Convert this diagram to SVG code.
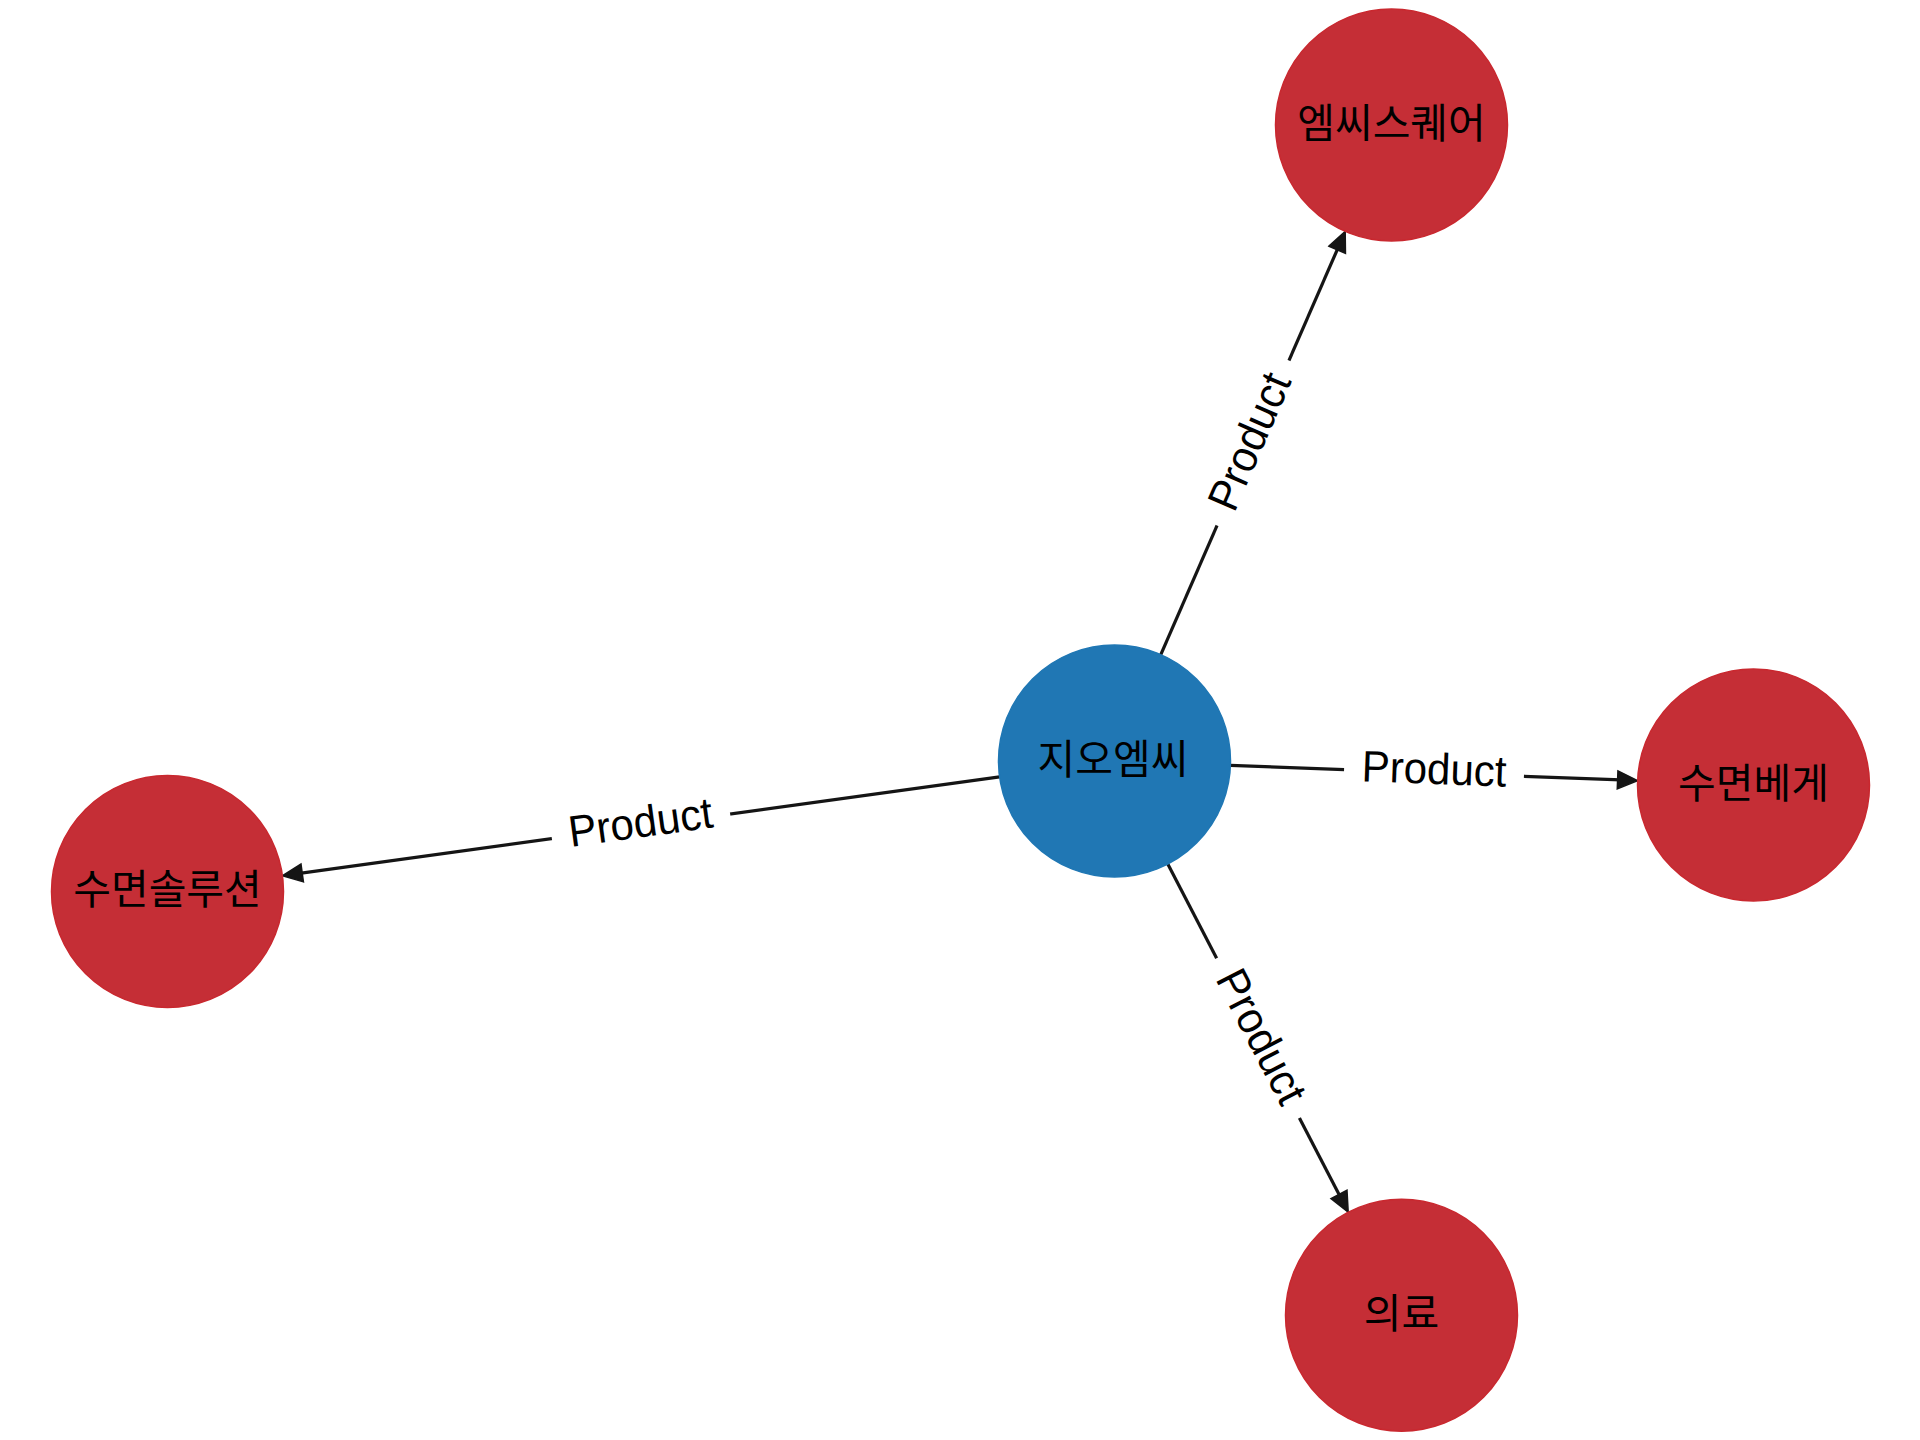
<svg xmlns="http://www.w3.org/2000/svg" width="1920" height="1440" viewBox="0 0 1920 1440">
  <style>
    .edge { stroke: #151515; stroke-width: 3.2; fill: none; marker-end: url(#arrow); }
    .lblbg { fill: #ffffff; }
    .lbl { font-family: "Liberation Sans", Arial, sans-serif; font-size: 44px; fill: #000000; text-anchor: middle; }
    .red { fill: #c52e36; stroke: #c9282f; stroke-width: 1.5; }
    .blue { fill: #2077b4; stroke: #1f77b4; stroke-width: 1.5; }
    .ntxt { font-family: "Noto Sans CJK KR", "Noto Sans", sans-serif; font-size: 41px; fill: #000000; text-anchor: middle; }
  </style>
  <defs>
    <marker id="arrow" viewBox="0 0 20 20" refX="10" refY="10" markerWidth="20" markerHeight="20" markerUnits="userSpaceOnUse" orient="auto" overflow="visible">
      <path d="M0,1 L20,10 L0,19 Z" fill="#151515" stroke="#151515" stroke-width="1.5" stroke-linejoin="miter"/>
    </marker>
  </defs>
  <rect x="0" y="0" width="1920" height="1440" fill="#ffffff"/>

  <g id="connectors">
    <line class="edge" x1="1160.8" y1="654.6" x2="1341.2" y2="240.6"/>
    <line class="edge" x1="1230.4" y1="765.4" x2="1627.6" y2="780.2"/>
    <line class="edge" x1="1167.8" y1="864" x2="1343.6" y2="1203.3"/>
    <line class="edge" x1="999.6" y1="776.8" x2="292.3" y2="874.3"/>
    <g id="label-to-mcsquare" transform="translate(1253,443) rotate(-66.47)">
      <rect class="lblbg" x="-90" y="-25" width="180" height="50"/>
      <text class="lbl" x="0" y="11" textLength="145" lengthAdjust="spacingAndGlyphs">Product</text>
    </g>
    <g id="label-to-pillow" transform="translate(1434,773) rotate(2.15)">
      <rect class="lblbg" x="-90" y="-25" width="180" height="50"/>
      <text class="lbl" x="0" y="11" textLength="145" lengthAdjust="spacingAndGlyphs">Product</text>
    </g>
    <g id="label-to-medical" transform="translate(1258,1038.1) rotate(62.61)">
      <rect class="lblbg" x="-90" y="-25" width="180" height="50"/>
      <text class="lbl" x="0" y="11" textLength="145" lengthAdjust="spacingAndGlyphs">Product</text>
    </g>
    <g id="label-to-solution" transform="translate(641,826.25) rotate(-7.85)">
      <rect class="lblbg" x="-90" y="-25" width="180" height="50"/>
      <text class="lbl" x="0" y="11" textLength="145" lengthAdjust="spacingAndGlyphs">Product</text>
    </g>
  </g>

  <g id="node-gomc">
    <circle class="blue" cx="1114.5" cy="761" r="116"/>
    <text class="ntxt" x="1113" y="774">지오엠씨</text>
  </g>
  <g id="node-mcsquare">
    <circle class="red" cx="1391.5" cy="125" r="116"/>
    <text class="ntxt" x="1391.5" y="138">엠씨스퀘어</text>
  </g>
  <g id="node-pillow">
    <circle class="red" cx="1753.5" cy="785" r="116"/>
    <text class="ntxt" x="1753.5" y="798">수면베게</text>
  </g>
  <g id="node-medical">
    <circle class="red" cx="1401.5" cy="1315.2" r="116"/>
    <text class="ntxt" x="1401.5" y="1328">의료</text>
  </g>
  <g id="node-solution">
    <circle class="red" cx="167.5" cy="891.5" r="116"/>
    <text class="ntxt" x="167.5" y="904">수면솔루션</text>
  </g>
</svg>
